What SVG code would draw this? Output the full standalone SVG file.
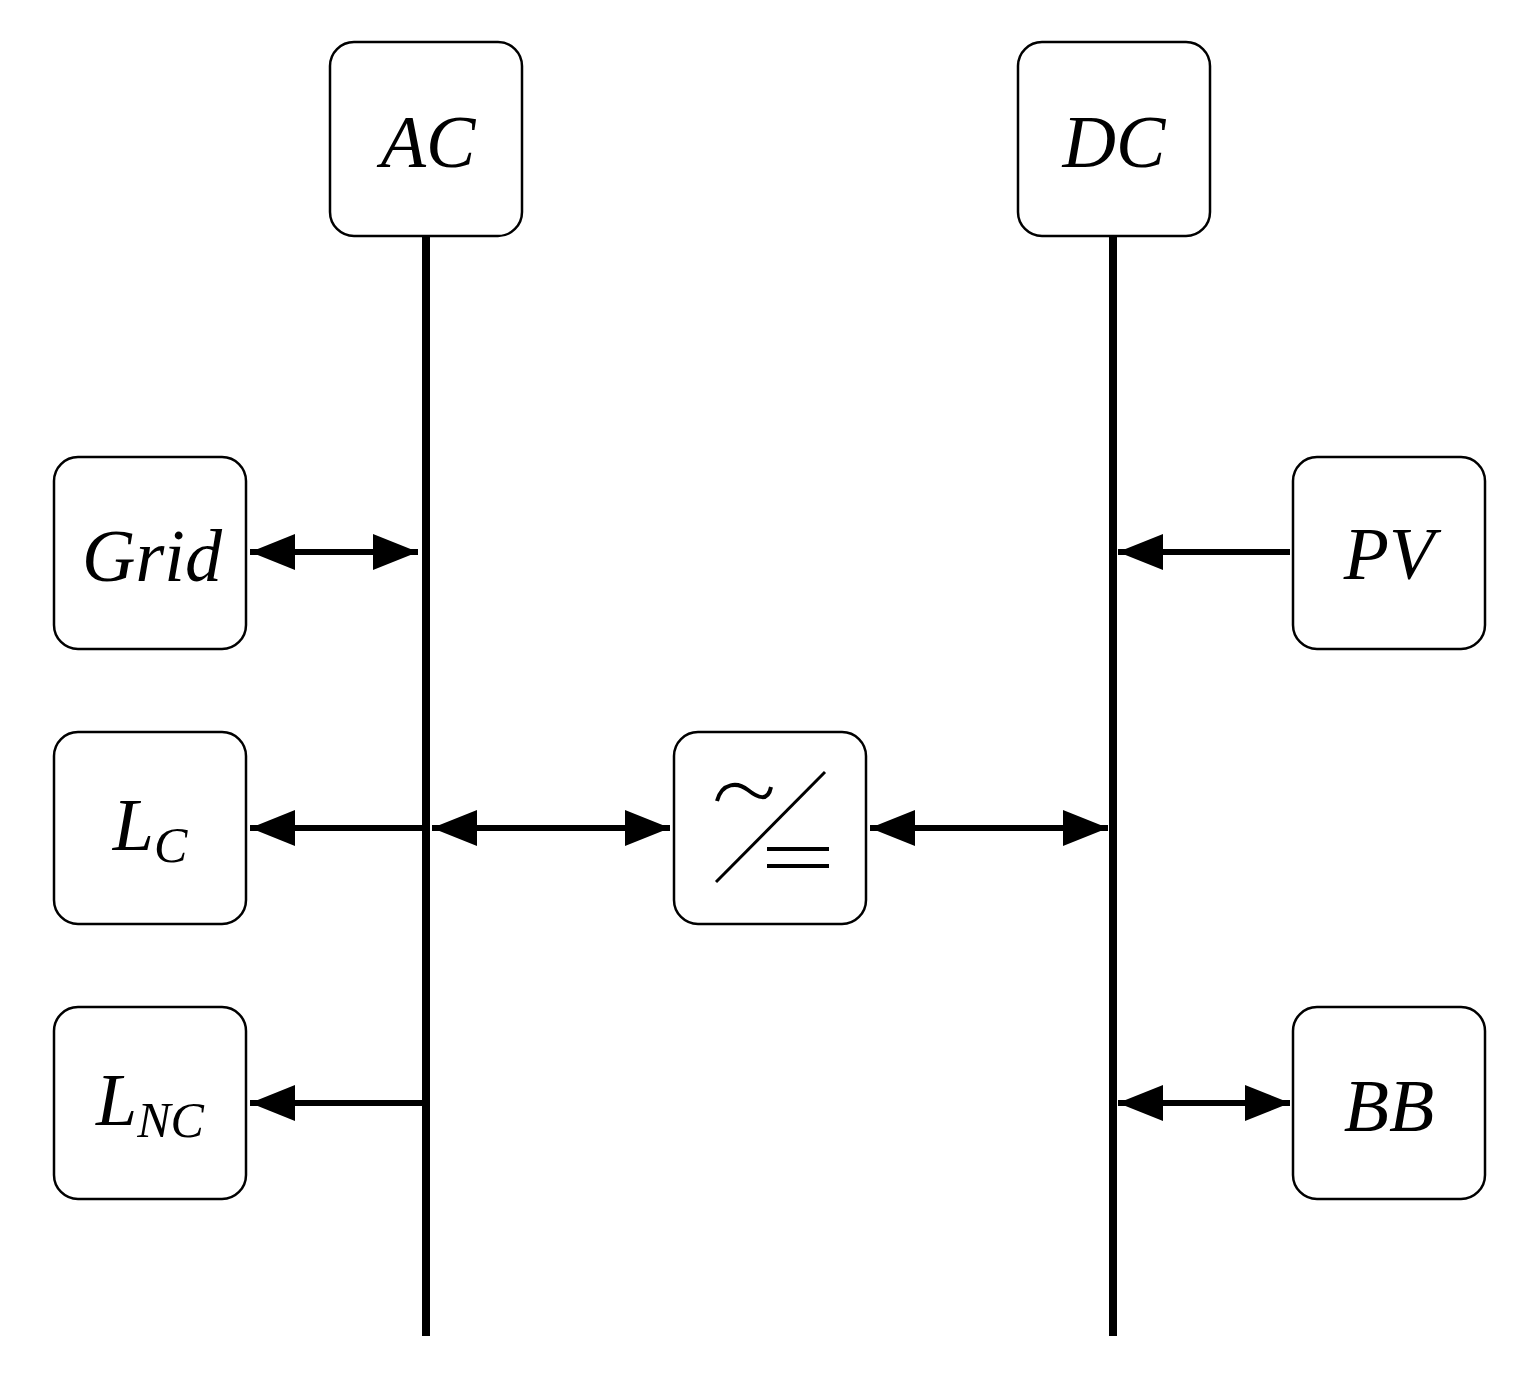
<svg xmlns="http://www.w3.org/2000/svg" width="1515" height="1388" viewBox="0 0 1515 1388">
<style>
.box{fill:#fff;stroke:#000;stroke-width:2.5}
.t{font-family:"Liberation Serif","DejaVu Serif",serif;font-style:italic;font-size:74px;text-anchor:middle}
.s{font-size:50px}
.bus{stroke:#000;stroke-width:8}
.c{stroke:#000;stroke-width:6;fill:none}
</style>
<defs>
<marker id="ah" viewBox="0 0 45 36" refX="45" refY="18" markerWidth="45" markerHeight="36" markerUnits="userSpaceOnUse" orient="auto-start-reverse">
<path d="M0,0 L45,18 L0,36 Z" fill="#000"/>
</marker>
</defs>
<g id="buses">
<line class="bus" x1="426" y1="236" x2="426" y2="1336"/>
<line class="bus" x1="1113" y1="236" x2="1113" y2="1336"/>
</g>
<g id="connectors">
<line class="c" x1="250" y1="552" x2="418" y2="552" marker-start="url(#ah)" marker-end="url(#ah)"/>
<line class="c" x1="1290" y1="552" x2="1118" y2="552" marker-end="url(#ah)"/>
<line class="c" x1="426" y1="828" x2="250" y2="828" marker-end="url(#ah)"/>
<line class="c" x1="432" y1="828" x2="670" y2="828" marker-start="url(#ah)" marker-end="url(#ah)"/>
<line class="c" x1="870" y1="828" x2="1108" y2="828" marker-start="url(#ah)" marker-end="url(#ah)"/>
<line class="c" x1="426" y1="1103" x2="250" y2="1103" marker-end="url(#ah)"/>
<line class="c" x1="1118" y1="1103" x2="1290" y2="1103" marker-start="url(#ah)" marker-end="url(#ah)"/>
</g>
<g id="AC"><rect class="box" x="330" y="42" width="192" height="194" rx="24"/><text class="t" x="428" y="167">AC</text></g>
<g id="DC"><rect class="box" x="1018" y="42" width="192" height="194" rx="24"/><text class="t" x="1114" y="167">DC</text></g>
<g id="Grid"><rect class="box" x="54" y="457" width="192" height="192" rx="24"/><text class="t" x="152" y="581">Grid</text></g>
<g id="LC"><rect class="box" x="54" y="732" width="192" height="192" rx="24"/><text class="t" x="150" y="850">L<tspan class="s" dy="12">C</tspan></text></g>
<g id="LNC"><rect class="box" x="54" y="1007" width="192" height="192" rx="24"/><text class="t" x="150" y="1125">L<tspan class="s" dy="12">NC</tspan></text></g>
<g id="PV"><rect class="box" x="1293" y="457" width="192" height="192" rx="24"/><text class="t" x="1389" y="579">PV</text></g>
<g id="BB"><rect class="box" x="1293" y="1007" width="192" height="192" rx="24"/><text class="t" x="1389" y="1131">BB</text></g>
<g id="converter"><rect class="box" x="674" y="732" width="192" height="192" rx="24"/>
<path d="M717,801 C722,782 738,782 748,790 C758,798 768,802 771,787" fill="none" stroke="#000" stroke-width="4"/>
<line x1="716" y1="882" x2="825" y2="772" stroke="#000" stroke-width="3"/>
<line x1="767" y1="849" x2="829" y2="849" stroke="#000" stroke-width="4"/>
<line x1="767" y1="866" x2="829" y2="866" stroke="#000" stroke-width="4"/>
</g>
</svg>
